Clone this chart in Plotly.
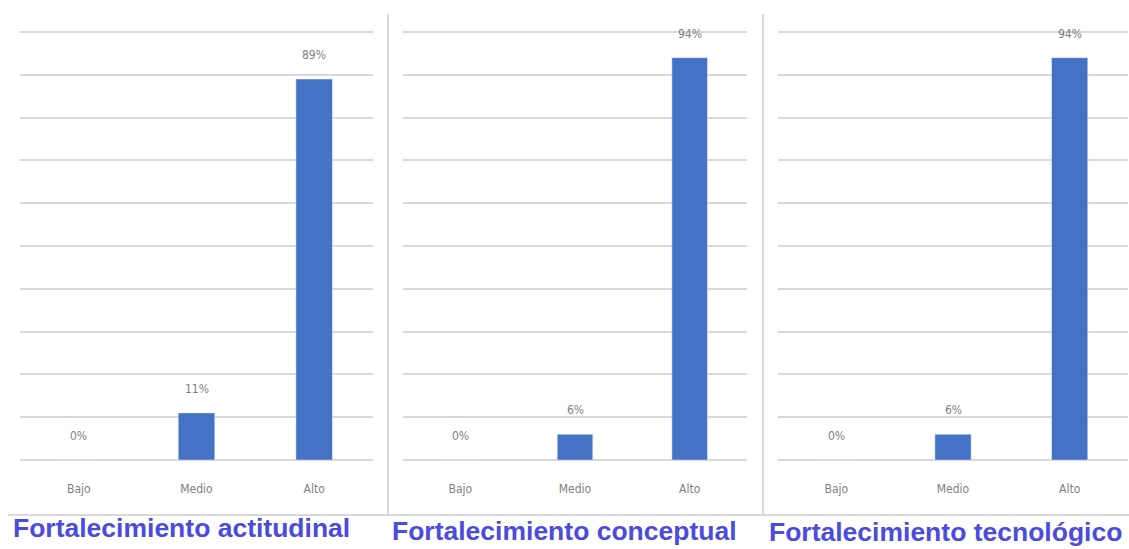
import plotly.graph_objects as go

# Data
categorias = ["Bajo", "Medio", "Alto"]
actitudinal = [0, 11, 89]
conceptual = [0, 6, 94]
tecnologico = [0, 6, 94]
titulos = ["Fortalecimiento actitudinal", "Fortalecimiento conceptual", "Fortalecimiento tecnológico"]

W, H = 1129, 549
BAR = "#4472C4"
GRID = "#d9d9d9"
LABEL = "#7f7f7f"
TITLE = "#4b4bdc"
SMALL_FONT = "Liberation Sans Narrow, DejaVu Sans Condensed, Arial Narrow, sans-serif"

# panel extents in pixels (left, right) and plot baseline/top
panels = [(20, 373), (403, 747), (778, 1128)]
base_px, top_px = 460, 30
ydom = [1 - base_px / H, 1 - top_px / H]
YMAX = 100 * (base_px - top_px) / (base_px - 32)

series = [actitudinal, conceptual, tecnologico]
fig = go.Figure()

for i, (vals, (x0, x1)) in enumerate(zip(series, panels)):
    ax = "" if i == 0 else str(i + 1)
    fig.add_trace(go.Bar(
        x=categorias, y=vals, marker_color=BAR, width=0.31,
        xaxis="x" + ax, yaxis="y" + ax, showlegend=False, hoverinfo="skip",
    ))
    fig.update_layout(**{
        "xaxis" + ax: dict(
            domain=[x0 / W, x1 / W], anchor="y" + ax, showgrid=False,
            showline=False, zeroline=False, ticks="", fixedrange=True,
            ticklabelstandoff=20,
            tickfont=dict(family=SMALL_FONT, size=12, color=LABEL),
        ),
        "yaxis" + ax: dict(
            domain=ydom, anchor="x" + ax, range=[0, YMAX], dtick=10,
            showgrid=True, gridcolor=GRID, gridwidth=2, zeroline=True,
            zerolinecolor=GRID, zerolinewidth=2, showticklabels=False,
            ticks="", showline=False, fixedrange=True,
        ),
    })
    # value labels above each bar
    for c, v in zip(categorias, vals):
        fig.add_annotation(
            x=c, y=v, xref="x" + ax, yref="y" + ax, text=f"{v}%",
            showarrow=False, yanchor="bottom", yshift=15,
            font=dict(family=SMALL_FONT, size=12, color=LABEL),
        )

# panel titles below the charts
title_pos = [(181, 528), (564, 531), (945, 532)]
for t, (cx, cy) in zip(titulos, title_pos):
    fig.add_annotation(
        x=cx / W, y=1 - cy / H, xref="paper", yref="paper", text=f"<b>{t}</b>",
        showarrow=False, xanchor="center", yanchor="middle",
        font=dict(family="Liberation Sans, Arial, sans-serif", size=26.5, color=TITLE),
    )

# panel separators
shapes = []
for sx in (388, 763):
    shapes.append(dict(type="line", xref="paper", yref="paper",
                       x0=sx / W, x1=sx / W, y0=1 - 14 / H, y1=1 - 515 / H,
                       line=dict(color=GRID, width=2)))
shapes.append(dict(type="line", xref="paper", yref="paper",
                   x0=8 / W, x1=1, y0=1 - 515 / H, y1=1 - 515 / H,
                   line=dict(color=GRID, width=2)))

fig.update_layout(
    width=W, height=H, margin=dict(l=0, r=0, t=0, b=0),
    plot_bgcolor="white", paper_bgcolor="white", shapes=shapes,
)

fig.write_html("out.html")
